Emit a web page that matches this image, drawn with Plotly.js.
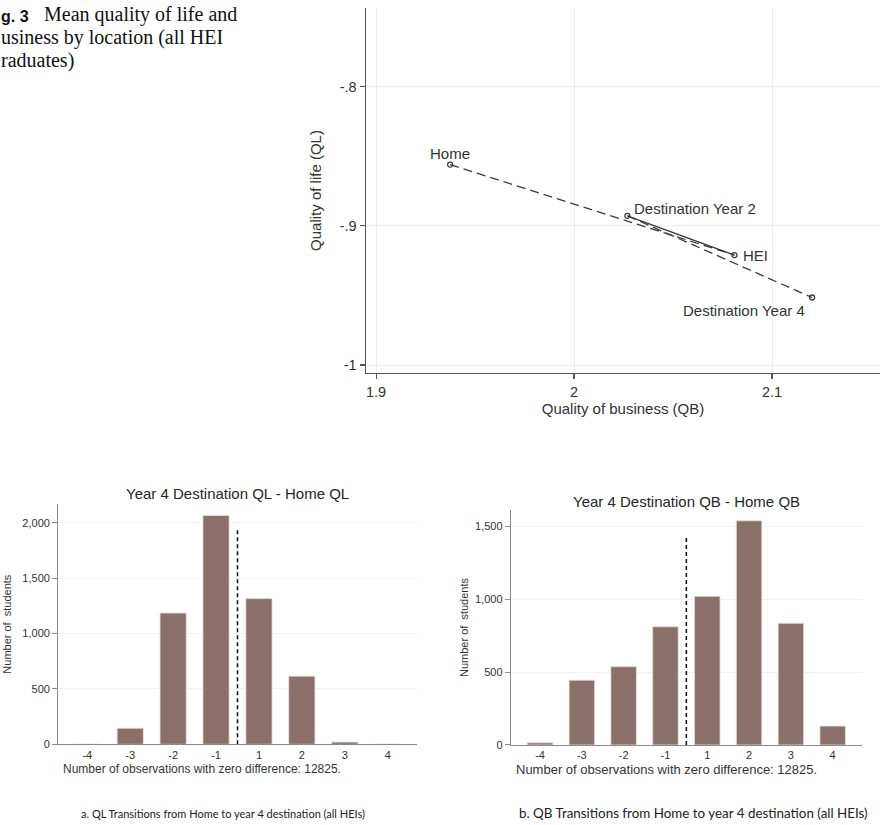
<!DOCTYPE html>
<html><head><meta charset="utf-8">
<script src="https://cdn.plot.ly/plotly-3.0.1.min.js"></script>
<style>html,body{margin:0;padding:0;background:#fff;}#chart{width:880px;height:825px;}</style>
</head><body><div id="chart"></div>
<script>
// ---- Top panel: mean quality of life / business by location ----
const locations = ["Home", "HEI", "Destination Year 2", "Destination Year 4"];
const meanQB = [1.9374, 2.0810, 2.0269, 2.1202];
const meanQL = [-0.8560, -0.9210, -0.8928, -0.9515];
const qbTicks = [1.9, 2.0, 2.1];
const qbTickLabels = ["1.9", "2", "2.1"];
const qlTicks = [-1, -0.9, -0.8];
const qlTickLabels = ["-1", "-.9", "-.8"];

// ---- Bottom panels: year 4 destination minus home ----
const diffCategories = ["-4", "-3", "-2", "-1", "1", "2", "3", "4"];
const qlDiffCounts = [0, 145, 1185, 2065, 1315, 615, 20, 0];
const qbDiffCounts = [15, 445, 538, 812, 1021, 1540, 836, 130];
const zeroLineTop = [1935, 1435];
const zeroDiffObs = [12825, 12825];
const panelTitles = ["Year 4 Destination QL - Home QL", "Year 4 Destination QB - Home QB"];
const panelCaptions = ["a. QL Transitions from Home to year 4 destination (all HEIs)",
                       "b. QB Transitions from Home to year 4 destination (all HEIs)"];

const SANS = "Liberation Sans, Arial, sans-serif";
const SERIF = "Liberation Serif, Times New Roman, serif";
const lineCol = "#3a3a3a";

// path: Home -> HEI (dashed), HEI -> Dest Y2 (solid), Dest Y2 -> Dest Y4 (dashed)
const segments = [[0, 1, "9px,5px"], [1, 2, "solid"], [2, 3, "9px,5px"]];
const traces = [];
segments.forEach(s => {
  traces.push({
    type: "scatter", mode: "lines", xaxis: "x", yaxis: "y",
    x: [meanQB[s[0]], meanQB[s[1]]], y: [meanQL[s[0]], meanQL[s[1]]],
    line: {color: lineCol, width: 1.3, dash: s[2]}, hoverinfo: "skip", showlegend: false
  });
});
traces.push({
  type: "scatter", mode: "markers", xaxis: "x", yaxis: "y",
  x: meanQB, y: meanQL, text: locations,
  marker: {symbol: "circle-open", size: 5, color: lineCol, line: {width: 1.3, color: lineCol}},
  showlegend: false
});

const barColor = "#8b7069";
traces.push({
  type: "bar", xaxis: "x2", yaxis: "y2", x: diffCategories, y: qlDiffCounts,
  marker: {color: barColor, line: {color: "#e6dedb", width: 0.8}}, showlegend: false
});
traces.push({
  type: "bar", xaxis: "x3", yaxis: "y3", x: diffCategories, y: qbDiffCounts,
  marker: {color: barColor, line: {color: "#e6dedb", width: 0.8}}, showlegend: false
});

// label placement (style only)
const labelPlace = {
  "Home": {xanchor: "center", xshift: 0, yshift: 11},
  "HEI": {xanchor: "left", xshift: 7, yshift: 0},
  "Destination Year 2": {xanchor: "left", xshift: 5, yshift: 7},
  "Destination Year 4": {xanchor: "right", xshift: -5, yshift: -13}
};

const annotations = [];
locations.forEach((name, i) => {
  const p = labelPlace[name];
  annotations.push({
    xref: "x", yref: "y", x: meanQB[i], y: meanQL[i], text: name, showarrow: false,
    xanchor: p.xanchor, yanchor: "middle", xshift: p.xshift, yshift: p.yshift,
    font: {family: SANS, size: 15, color: "#333"}
  });
});

// bottom panel titles, notes, captions
const titlePos = [[0.2701, 0.4021], [0.7803, 0.3919]];
const notePos = [[0.0693, 0.0675, 12], [0.5841, 0.0675, 13]];
const capPos = [[0.0893, 0.0145, 11], [0.5875, 0.0145, 13.4]];
for (let k = 0; k < 2; k++) {
  annotations.push({xref: "paper", yref: "paper", x: titlePos[k][0], y: titlePos[k][1],
    text: panelTitles[k], showarrow: false, xanchor: "center", yanchor: "middle",
    font: {family: SANS, size: 15, color: "#262626"}});
  annotations.push({xref: "paper", yref: "paper", x: notePos[k][0], y: notePos[k][1],
    text: "Number of observations with zero difference: " + zeroDiffObs[k] + ".", showarrow: false,
    xanchor: "left", yanchor: "middle", font: {family: SANS, size: notePos[k][2], color: "#333"}});
  annotations.push({xref: "paper", yref: "paper", x: capPos[k][0], y: capPos[k][1],
    text: panelCaptions[k], showarrow: false, xanchor: "left", yanchor: "middle",
    font: {family: "Lato, Open Sans, sans-serif", size: capPos[k][2], color: "#222"}});
}

// figure caption (cropped at left edge in the source)
annotations.push({xref: "paper", yref: "paper", x: 0, y: 0.9804, text: "<b>g. 3</b>",
  showarrow: false, xanchor: "left", yanchor: "middle", borderpad: 0,
  font: {family: SANS, size: 16, color: "#111"}});
annotations.push({xref: "paper", yref: "paper", x: 0.0485, y: 1 - 14.5 / 825, text: "Mean quality of life and",
  showarrow: false, xanchor: "left", yanchor: "middle", borderpad: 0,
  font: {family: SERIF, size: 20, color: "#111"}});
annotations.push({xref: "paper", yref: "paper", x: 0, y: 1 - 37.5 / 825, text: "usiness by location (all HEI",
  showarrow: false, xanchor: "left", yanchor: "middle", borderpad: 0,
  font: {family: SERIF, size: 20, color: "#111"}});
annotations.push({xref: "paper", yref: "paper", x: 0, y: 1 - 60.5 / 825, text: "raduates)",
  showarrow: false, xanchor: "left", yanchor: "middle", borderpad: 0,
  font: {family: SERIF, size: 20, color: "#111"}});

const zeroIdx = diffCategories.indexOf("-1") + 0.5;
const shapes = [
  {type: "line", xref: "x2", yref: "y2", x0: zeroIdx, x1: zeroIdx, y0: 0, y1: zeroLineTop[0],
   line: {color: "#111", width: 1.6, dash: "4px,3px"}},
  {type: "line", xref: "x3", yref: "y3", x0: zeroIdx, x1: zeroIdx, y0: 0, y1: zeroLineTop[1],
   line: {color: "#111", width: 1.6, dash: "4px,3px"}}
];

const topAxisCommon = {
  showline: true, linecolor: "#555", linewidth: 1.5, ticks: "outside", ticklen: 5,
  tickcolor: "#555", tickwidth: 1.2, showgrid: true, gridcolor: "#ececec", gridwidth: 1,
  zeroline: false, tickfont: {family: SANS, size: 14.5, color: "#333"}
};
const botYCommon = {
  showline: true, linecolor: "#8a8a8a", linewidth: 1.2, ticks: "outside", ticklen: 5,
  tickcolor: "#8a8a8a", tickwidth: 1, showgrid: true, gridcolor: "#f2f2f2", gridwidth: 1,
  zeroline: false, tickformat: ",d", dtick: 500, tick0: 0,
  tickfont: {family: SANS, size: 11, color: "#333"}
};
const botXCommon = {
  type: "category", showline: true, linecolor: "#8a8a8a", linewidth: 1.2, ticks: "",
  showgrid: false, zeroline: false, tickfont: {family: SANS, size: 11, color: "#333"}
};

const layout = {
  width: 880, height: 825, margin: {l: 0, r: 0, t: 0, b: 0},
  paper_bgcolor: "#fff", plot_bgcolor: "#fff", showlegend: false, bargap: 0.39,
  xaxis: Object.assign({}, topAxisCommon, {domain: [0.41591, 1], range: [1.8949, 2.1545],
    tickvals: qbTicks, ticktext: qbTickLabels, anchor: "y",
    title: {text: "Quality of business (QB)", font: {family: SANS, size: 15, color: "#333"}, standoff: 3}}),
  yaxis: Object.assign({}, topAxisCommon, {domain: [0.54788, 0.99030], range: [-1.00575, -0.74344],
    tickvals: qlTicks, ticktext: qlTickLabels, anchor: "x",
    title: {text: "Quality of life (QL)", font: {family: SANS, size: 15, color: "#333"}, standoff: 14}}),
  xaxis2: Object.assign({}, botXCommon, {domain: [0.06625, 0.47352], range: [-0.676, 7.676], anchor: "y2",
    categoryorder: "array", categoryarray: diffCategories}),
  yaxis2: Object.assign({}, botYCommon, {domain: [0.09782, 0.38909], range: [0, 2169], anchor: "x2",
    ticklabelstandoff: 0,
    title: {text: "Number of  students", font: {family: SANS, size: 11, color: "#333"}, standoff: 8}}),
  xaxis3: Object.assign({}, botXCommon, {domain: [0.58068, 0.97920], range: [-0.694, 7.694], anchor: "y3",
    categoryorder: "array", categoryarray: diffCategories}),
  yaxis3: Object.assign({}, botYCommon, {domain: [0.09697, 0.38182], range: [0, 1614], anchor: "x3",
    ticklabelstandoff: 0,
    title: {text: "Number of  students", font: {family: SANS, size: 11, color: "#333"}, standoff: 4}}),
  annotations: annotations, shapes: shapes
};

Plotly.newPlot("chart", traces, layout, {staticPlot: true, displayModeBar: false});
</script></body></html>
